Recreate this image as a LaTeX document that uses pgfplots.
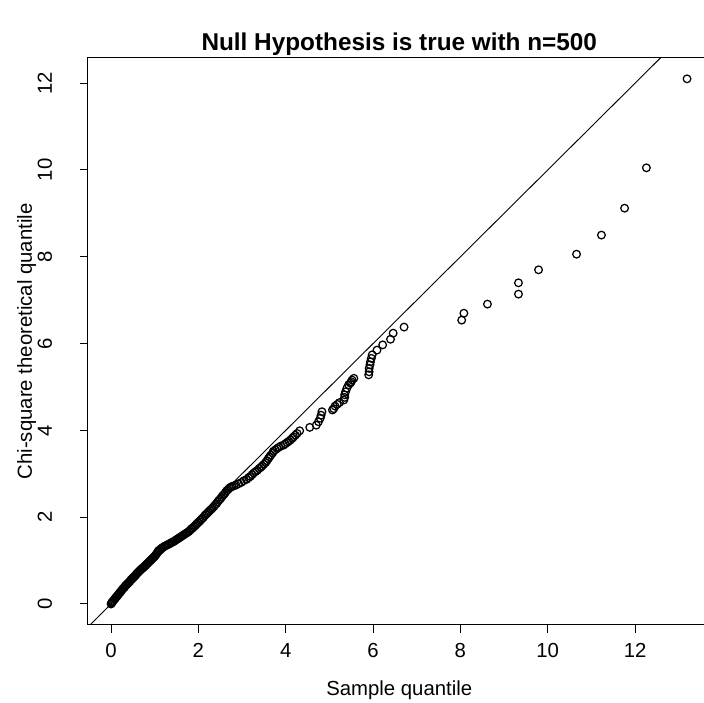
\documentclass[border=0pt]{standalone}
\usepackage{pgfplots}
\pgfplotsset{compat=1.18}
\usepackage{fontspec}
\setmainfont{Liberation Sans}
\begin{document}
\begin{tikzpicture}
\begin{axis}[
  at={(0,0)}, anchor=south west,
  scale only axis,
  x=26.2pt, y=26.04pt,
  xmin=-0.528, xmax=13.728,
  ymin=-0.484, ymax=12.584,
  axis line style={line width=0.6pt},
  tick align=outside, tick pos=left,
  major tick length=4.8pt,
  every tick/.style={black, line width=0.6pt},
  xtick={0,2,...,12}, ytick={0,2,...,12},
  /pgf/number format/assume math mode=true,
  tick label style={font=\fontsize{12.2}{14}\selectfont},
  xticklabel style={anchor=base, yshift=-15pt},
  yticklabel style={rotate=90, anchor=base, yshift=16.8pt},
  title={Null Hypothesis is true with n=500},
  title style={font=\fontsize{14.6}{17}\selectfont\bfseries, at={(0.5,1)}, anchor=base, yshift=-1.5pt},
  xlabel={Sample quantile},
  ylabel={Chi-square theoretical quantile},
  label style={font=\fontsize{12.2}{14}\selectfont},
  xlabel style={at={(0.5,0)}, anchor=base, yshift=-42.6pt},
  ylabel style={at={(0,0.5)}, anchor=base, yshift=33.6pt},
  clip=true,
]
% reference line y = x
\addplot[black, line width=0.55pt] coordinates {(-1,-1) (14,14)};

% sample vs theoretical quantiles
\addplot[only marks, mark=o, mark size=2.3pt, mark options={line width=0.75pt, black}] coordinates {
(0.00,0.00) (0.01,0.02) (0.02,0.03) (0.03,0.05) (0.05,0.07) (0.07,0.10) (0.09,0.12)
(0.11,0.15) (0.13,0.17) (0.15,0.20) (0.17,0.22) (0.19,0.25) (0.21,0.27) (0.23,0.30)
(0.25,0.32) (0.27,0.35) (0.29,0.37) (0.31,0.39) (0.33,0.42) (0.35,0.44) (0.37,0.46)
(0.39,0.48) (0.41,0.50) (0.43,0.52) (0.45,0.55) (0.47,0.57) (0.49,0.59) (0.51,0.61)
(0.53,0.63) (0.55,0.65) (0.57,0.67) (0.59,0.70) (0.61,0.72) (0.63,0.74) (0.65,0.76)
(0.67,0.78) (0.69,0.80) (0.71,0.82) (0.73,0.83) (0.75,0.85) (0.77,0.87) (0.79,0.89)
(0.81,0.91) (0.83,0.93) (0.85,0.95) (0.87,0.97) (0.89,0.99) (0.91,1.01) (0.93,1.03)
(0.95,1.05) (0.97,1.07) (0.99,1.09) (1.01,1.11) (1.03,1.14) (1.05,1.17) (1.07,1.20)
(1.09,1.23) (1.12,1.25) (1.15,1.28) (1.18,1.30) (1.21,1.32) (1.24,1.34) (1.27,1.35)
(1.30,1.37) (1.33,1.38) (1.36,1.40) (1.39,1.42) (1.42,1.43) (1.45,1.45) (1.48,1.47)
(1.51,1.49) (1.54,1.51) (1.57,1.53) (1.60,1.55) (1.63,1.57) (1.66,1.59) (1.69,1.61)
(1.72,1.63) (1.75,1.65) (1.78,1.67) (1.81,1.70) (1.84,1.73) (1.87,1.75) (1.90,1.78)
(1.93,1.81) (1.96,1.84) (1.99,1.87) (2.02,1.90) (2.05,1.93) (2.08,1.96) (2.11,1.99)
(2.14,2.03) (2.17,2.06) (2.20,2.09) (2.23,2.12) (2.26,2.15) (2.29,2.18) (2.32,2.21)
(2.35,2.24) (2.38,2.28) (2.41,2.31) (2.44,2.35) (2.47,2.39) (2.50,2.42) (2.53,2.46)
(2.56,2.50) (2.59,2.53) (2.62,2.57) (2.65,2.61) (2.68,2.64) (2.71,2.67) (2.74,2.69)
(2.77,2.71)
(2.81,2.72) (2.86,2.74) (2.92,2.77) (2.98,2.80) (3.04,2.84) (3.10,2.87) (3.15,2.91)
(3.19,2.94) (3.23,2.98) (3.27,3.02) (3.31,3.05) (3.35,3.08) (3.39,3.12) (3.43,3.15)
(3.46,3.18) (3.50,3.22) (3.54,3.26) (3.57,3.30) (3.60,3.35) (3.63,3.39) (3.66,3.43)
(3.70,3.48) (3.72,3.52) (3.76,3.55) (3.80,3.58) (3.84,3.61) (3.89,3.64) (3.95,3.66)
(3.99,3.69) (4.03,3.72) (4.07,3.75) (4.11,3.78) (4.15,3.82) (4.18,3.85) (4.22,3.89)
(4.26,3.93) (4.32,3.99) (4.55,4.07) (4.70,4.12) (4.75,4.20) (4.79,4.28) (4.81,4.35)
(4.83,4.43) (5.07,4.47) (5.10,4.50) (5.13,4.56) (5.18,4.60) (5.23,4.64) (5.33,4.70)
(5.35,4.76) (5.35,4.82) (5.37,4.89) (5.40,4.97) (5.44,5.05) (5.48,5.09) (5.50,5.12)
(5.52,5.16) (5.56,5.20)
(5.90,5.28) (5.91,5.35) (5.91,5.43) (5.93,5.51) (5.94,5.58) (5.96,5.66) (5.98,5.74)
(6.09,5.85) (6.22,5.97) (6.40,6.10) (6.46,6.24) (6.71,6.38)
(8.03,6.54) (8.08,6.70) (8.62,6.91) (9.33,7.14) (9.33,7.40) (9.79,7.70) (10.66,8.06)
(11.23,8.50) (11.76,9.12) (12.26,10.05) (13.19,12.10)
};
\end{axis}
\pgfresetboundingbox
\path[use as bounding box] (-52.8pt,-46.8pt) rectangle (369.6pt,375pt);
\end{tikzpicture}
\end{document}
